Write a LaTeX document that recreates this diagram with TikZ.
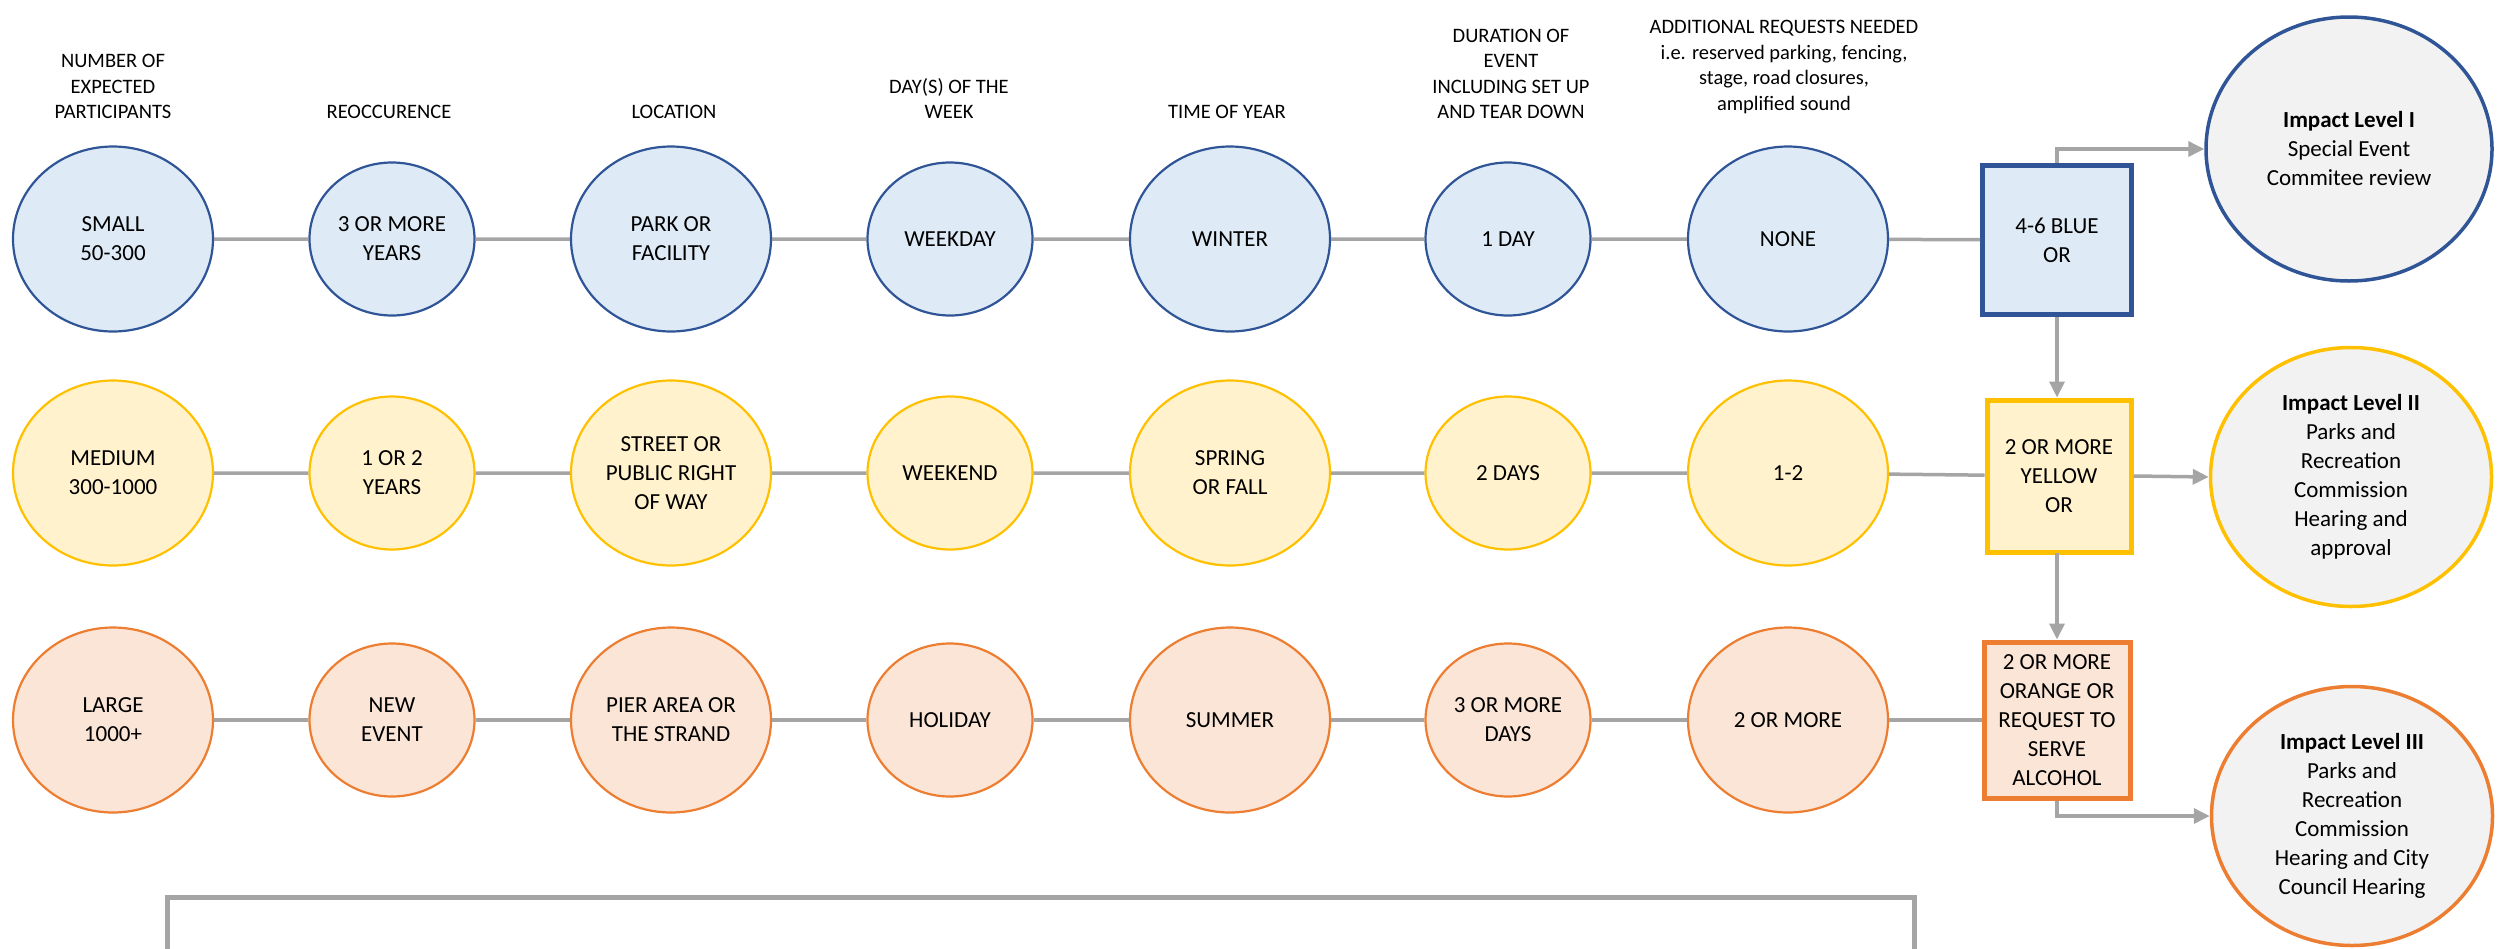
\documentclass[tikz,border=0pt]{standalone}
\usepackage{fontspec}
\setmainfont{Carlito}
\usepackage{xcolor}
\definecolor{bluedk}   {HTML}{2F5597}
\definecolor{bluelt}   {HTML}{DEEBF7}
\definecolor{yellowdk} {HTML}{FFC000}
\definecolor{yellowlt} {HTML}{FFF2CC}
\definecolor{orangedk} {HTML}{ED7D31}
\definecolor{orangelt} {HTML}{FBE5D6}
\definecolor{greylt}   {HTML}{F2F2F2}
\definecolor{linec}    {HTML}{A5A5A5}
\usetikzlibrary{arrows.meta,positioning,shapes.geometric}

\begin{document}
\begin{tikzpicture}[x=1pt, y=-1pt,
  font=\fontsize{23}{29}\selectfont,
  oval/.style={ellipse, align=center, inner sep=0pt, line width=2.2pt},
  bigoval/.style={oval, minimum width=200pt, minimum height=185pt},
  smalloval/.style={oval, minimum width=165pt, minimum height=153pt},
  bluerow/.style={draw=bluedk, fill=bluelt},
  yellowrow/.style={draw=yellowdk, fill=yellowlt},
  orangerow/.style={draw=orangedk, fill=orangelt},
  gate/.style={rectangle, align=center, inner sep=0pt, line width=5pt},
  level/.style={ellipse, align=center, inner sep=0pt, fill=greylt, line width=3.5pt, minimum width=281pt, minimum height=259pt},
  header/.style={font=\fontsize{20.5}{25.5}\selectfont, align=center, inner sep=0pt, anchor=south},
  link/.style={draw=linec, line width=3.5pt},
  flow/.style={link, -{Triangle[length=16pt, width=15pt]}}]
  \useasboundingbox (0,0) rectangle (2501,948);
  % Column headings
  \node[header] (hpart) at (113,119) {NUMBER OF\\EXPECTED\\PARTICIPANTS};
  \node[header] (hreoc) at (389,119) {REOCCURENCE};
  \node[header] (hloc) at (674,119) {LOCATION};
  \node[header] (hday) at (949,119) {DAY(S) OF THE\\WEEK};
  \node[header] (htime) at (1227,119) {TIME OF YEAR};
  \node[header] (hdur) at (1511,119) {DURATION OF\\EVENT\\INCLUDING SET UP\\AND TEAR DOWN};
  \node[header] (hreq) at (1784,114) {ADDITIONAL REQUESTS NEEDED\\i.e. reserved parking, fencing,\\stage, road closures,\\amplified sound};
  % Blue row
  \node[bigoval, bluerow] (small) at (113,239) {SMALL\\50-300};
  \node[smalloval, bluerow] (reoc1) at (392,239) {3 OR MORE\\YEARS};
  \node[bigoval, bluerow] (park) at (671,239) {PARK OR\\FACILITY};
  \node[smalloval, bluerow] (weekday) at (950,239) {WEEKDAY};
  \node[bigoval, bluerow] (winter) at (1230,239) {WINTER};
  \node[smalloval, bluerow] (day1) at (1508,239) {1 DAY};
  \node[bigoval, bluerow] (none) at (1788,239) {NONE};
  \node[gate, bluerow, minimum width=149pt, minimum height=149pt] (blue) at (2057,240) {4-6 BLUE\\OR};
  % Yellow row
  \node[bigoval, yellowrow] (medium) at (113,473) {MEDIUM\\300-1000};
  \node[smalloval, yellowrow] (reoc2) at (392,473) {1 OR 2\\YEARS};
  \node[bigoval, yellowrow] (street) at (671,473) {STREET OR\\PUBLIC RIGHT\\OF WAY};
  \node[smalloval, yellowrow] (weekend) at (950,473) {WEEKEND};
  \node[bigoval, yellowrow] (spring) at (1230,473) {SPRING\\OR FALL};
  \node[smalloval, yellowrow] (day2) at (1508,473) {2 DAYS};
  \node[bigoval, yellowrow] (req12) at (1788,473) {1-2};
  \node[gate, yellowrow, minimum width=144pt, minimum height=152pt] (yellow) at (2059,476) {2 OR MORE\\YELLOW\\OR};
  % Orange row
  \node[bigoval, orangerow] (large) at (113,720) {LARGE\\1000+};
  \node[smalloval, orangerow] (newev) at (392,720) {NEW\\EVENT};
  \node[bigoval, orangerow] (pier) at (671,720) {PIER AREA OR\\THE STRAND};
  \node[smalloval, orangerow] (holiday) at (950,720) {HOLIDAY};
  \node[bigoval, orangerow] (summer) at (1230,720) {SUMMER};
  \node[smalloval, orangerow] (day3) at (1508,720) {3 OR MORE\\DAYS};
  \node[bigoval, orangerow] (req2) at (1788,720) {2 OR MORE};
  \node[gate, orangerow, minimum width=146pt, minimum height=156pt] (orange) at (2057,720) {2 OR MORE\\ORANGE OR\\REQUEST TO\\SERVE\\ALCOHOL};
  % Impact levels
  \node[level, draw=bluedk, minimum width=286pt, minimum height=264pt] (lvl1) at (2349,149) {\textbf{Impact Level I}\\Special Event\\Commitee review};
  \node[level, draw=yellowdk] (lvl2) at (2351,477) {\textbf{Impact Level II}\\Parks and\\Recreation\\Commission\\Hearing and\\approval};
  \node[level, draw=orangedk] (lvl3) at (2352,816) {\textbf{Impact Level III}\\Parks and\\Recreation\\Commission\\Hearing and City\\Council Hearing};
  % Row links
  \draw[link] (small) -- (reoc1) -- (park) -- (weekday) -- (winter) -- (day1) -- (none) -- (blue);
  \draw[link] (medium) -- (reoc2) -- (street) -- (weekend) -- (spring) -- (day2) -- (req12) -- (yellow);
  \draw[link] (large) -- (newev) -- (pier) -- (holiday) -- (summer) -- (day3) -- (req2) -- (orange);
  % Decision flow
  \draw[flow] (blue.north) |- (lvl1.west);
  \draw[flow] (blue.south) -- (blue.south |- yellow.north);
  \draw[flow] (yellow.east) -- (lvl2.west);
  \draw[flow] (yellow.south) -- (yellow.south -| orange.north) -- (orange.north);
  \draw[flow] (orange.south) |- (lvl3.west);
  % Notes frame (cut off)
  \draw[draw=linec, line width=5pt] (167,960) -- (167,897) -- (1914,897) -- (1914,960);
\end{tikzpicture}
\end{document}
